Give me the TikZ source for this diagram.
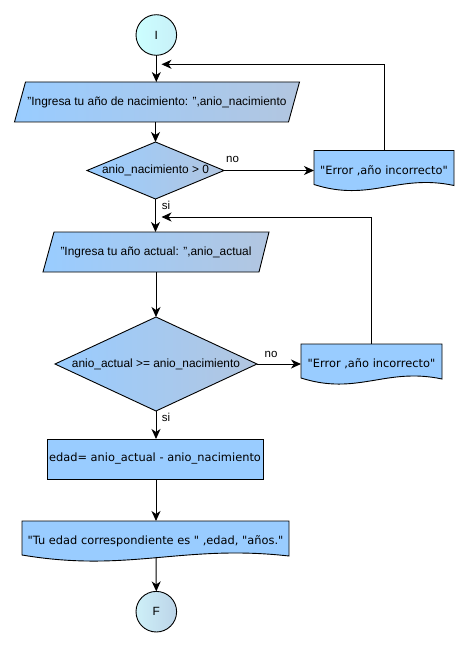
\documentclass[tikz,border=0pt]{standalone}
\usepackage{fontspec}
\setmainfont{Liberation Sans}
\newfontfamily\dejavu{DejaVu Sans}
\usetikzlibrary{arrows.meta,backgrounds,calc}
\definecolor{fillA}{RGB}{153,204,255}
\definecolor{fillB}{RGB}{178,198,224}
\definecolor{solidfill}{RGB}{153,204,255}
\definecolor{termA}{RGB}{204,255,255}
\definecolor{termB}{RGB}{200,240,248}
\definecolor{termC}{RGB}{206,240,248}
\definecolor{termD}{RGB}{188,212,232}
\begin{document}
\begin{tikzpicture}[x=1pt,y=-1pt,
  every node/.style={inner sep=0pt, outer sep=0pt},
  arial/.style={font=\fontsize{11.9}{14}\selectfont},
  lbl/.style={font=\fontsize{11.5}{14}\selectfont},
  dv/.style={font=\dejavu\fontsize{11.4}{14}\selectfont},
  holder/.style 2 args={minimum width=#1, minimum height=#2},
  conn/.style={draw=black, line width=1pt},
  arr/.style={conn, -{Stealth[length=10pt,width=9pt,inset=3pt]}},
  gradshape/.style={draw=black, line width=0.9pt, left color=fillA, right color=fillB},
  flatshape/.style={draw=black, line width=0.9pt, fill=solidfill},
  term/.style={circle, draw=black, line width=0.9pt, minimum size=40.6pt, arial},
]
\useasboundingbox (0,0) rectangle (470,647);

% terminals
\node[term, left color=termA, right color=termB] (ini) at (156.3,35) {I};
\node[term, left color=termC, right color=termD] (fin) at (156.3,611.7) {F};

% text holders
\node[arial, holder={285pt}{40pt}] (p1) at (157,102) {"Ingresa tu año de nacimiento: ",anio\_nacimiento};
\node[arial, holder={137pt}{57pt}] (d1) at (155.5,170.5) {anio\_nacimiento > 0};
\node[dv, holder={140pt}{40pt}] (e1) at (384,170.5) {"Error ,año incorrecto"};
\node[arial, holder={226pt}{40pt}] (p2) at (156,252) {"Ingresa tu año actual: ",anio\_actual};
\node[arial, holder={202pt}{94pt}] (d2) at (156,364) {anio\_actual >= anio\_nacimiento};
\node[dv, holder={141pt}{40pt}] (e2) at (371.5,364) {"Error ,año incorrecto"};
\node[dv, holder={216pt}{40pt}] (proc) at (155,459) {edad= anio\_actual - anio\_nacimiento};
\node[dv, holder={267pt}{40pt}] (disp) at (155.5,541) {"Tu edad correspondiente es " ,edad, "años."};

% labels
\node[lbl] (no1) at (232.5,159) {no};
\node[lbl] (si1) at (166,205) {si};
\node[lbl] (no2) at (271,354) {no};
\node[lbl] (si2) at (166,417) {si};

% shapes on background
\begin{scope}[on background layer]
  \path[gradshape] ($(p1.north west)+(11,0)$) -- (p1.north east) -- ($(p1.south east)+(-11,0)$) -- (p1.south west) -- cycle;
  \path[gradshape] ($(p2.north west)+(11,0)$) -- (p2.north east) -- ($(p2.south east)+(-10,0)$) -- (p2.south west) -- cycle;
  \path[gradshape] (d1.north) -- (d1.east) -- (d1.south) -- (d1.west) -- cycle;
  \path[gradshape] (d2.north) -- (d2.east) -- (d2.south) -- (d2.west) -- cycle;
  \path[flatshape] (proc.north west) rectangle (proc.south east);
  \foreach \n/\w in {e1/140, e2/141, disp/267} {
    \path[flatshape] ($(\n.south west)+(0,-6)$) -- (\n.north west) -- (\n.north east) -- ($(\n.south east)+(0,-5)$)
      .. controls ($(\n.south west)+(0.6*\w,-17)$) and ($(\n.south west)+(0.4*\w,12)$) .. ($(\n.south west)+(0,-6)$) -- cycle;
  }
\end{scope}

% junction points
\coordinate (j1) at (161.5,64.3);
\coordinate (j2) at (161.5,217);

% connectors
\draw[arr] (ini.south) -- (ini.south |- p1.north);
\draw[arr] (p1.south -| d1.north) -- (d1.north);
\draw[arr] (d1.east) -- (e1.west);
\draw[arr] (e1.north) |- (j1);
\draw[arr] (d1.south) -- (d1.south |- p2.north);
\draw[arr] (e2.north) |- (j2);
\draw[arr] (p2.south) -- (d2.north);
\draw[arr] (d2.east) -- (e2.west);
\draw[arr] (d2.south) -- (d2.south |- proc.north);
\draw[arr] (proc.south -| d2.south) -- (d2.south |- disp.north);
\draw[arr] ($(disp.south -| d2.south)+(0,-4)$) -- (fin.north);
\end{tikzpicture}
\end{document}
